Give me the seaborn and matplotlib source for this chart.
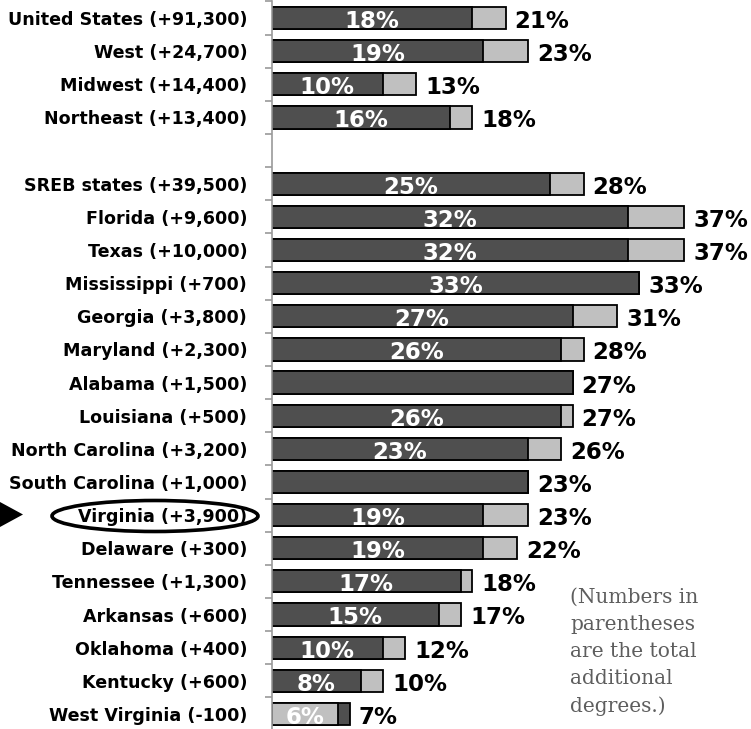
import numpy as np
import pandas as pd
import matplotlib
matplotlib.use("Agg")
import matplotlib.pyplot as plt
import seaborn as sns
from matplotlib.patches import Ellipse, Polygon

# ---------------- data ----------------
labels = ["United States (+91,300)", "West (+24,700)", "Midwest (+14,400)", "Northeast (+13,400)",
          " ",
          "SREB states (+39,500)", "Florida (+9,600)", "Texas (+10,000)", "Mississippi (+700)",
          "Georgia (+3,800)", "Maryland (+2,300)", "Alabama (+1,500)", "Louisiana (+500)",
          "North Carolina (+3,200)", "South Carolina (+1,000)", "Virginia (+3,900)",
          "Delaware (+300)", "Tennessee (+1,300)", "Arkansas (+600)", "Oklahoma (+400)",
          "Kentucky (+600)", "West Virginia (-100)"]
base_pct = [18, 19, 10, 16, np.nan, 25, 32, 32, 33, 27, 26, 27, 26, 23, 23, 19, 19, 17, 15, 10, 8, 6]
total_pct = [21, 23, 13, 18, np.nan, 28, 37, 37, 33, 31, 28, 27, 27, 26, 23, 23, 22, 18, 17, 12, 10, 7]
inner_labels = ["18%", "19%", "10%", "16%", "", "25%", "32%", "32%", "33%", "27%", "26%", "", "26%",
                "23%", "", "19%", "19%", "17%", "15%", "10%", "8%", "6%"]
outer_labels = ["21%", "23%", "13%", "18%", "", "28%", "37%", "37%", "33%", "31%", "28%", "27%", "27%",
                "26%", "23%", "23%", "22%", "18%", "17%", "12%", "10%", "7%"]
decline = [False] * 21 + [True]   # West Virginia: base segment light, top segment dark
note = "(Numbers in\nparentheses\nare the total\nadditional\ndegrees.)"

DARK = "#4f4f4f"
LIGHT = "#c0c0c0"
SANS = "DejaVu Sans"

df = pd.DataFrame({
    "label": labels,
    "base": base_pct,
    "total": total_pct,
    "back": ["dark" if d else "light" for d in decline],
    "front": ["light" if d else "dark" for d in decline],
})
pal = {"dark": DARK, "light": LIGHT}

W, H = 751, 729
fig = plt.figure(figsize=(W / 100, H / 100), dpi=100)
ax_left = 271.5 / W
ax = fig.add_axes([ax_left, -1.5 / H, 1 - ax_left, 1.0])

sns.barplot(data=df, x="total", y="label", hue="back", palette=pal, order=labels,
            dodge=False, width=0.67, edgecolor="black", linewidth=1.3, legend=False,
            orient="h", ax=ax, errorbar=None)
sns.barplot(data=df, x="base", y="label", hue="front", palette=pal, order=labels,
            dodge=False, width=0.67, edgecolor="black", linewidth=1.3, legend=False,
            orient="h", ax=ax, errorbar=None)

px_per_unit = 11.15
ax.set_xlim(0, (W - 271.5) / px_per_unit)
ax.set_ylim(len(labels) - 0.5, -0.5)

# inner and outer labels
for i, (b, t, il, ol) in enumerate(zip(base_pct, total_pct, inner_labels, outer_labels)):
    if np.isnan(t):
        continue
    if il:
        ax.text(b / 2, i + 0.30, il, ha="center", va="baseline", color="white",
                fontsize=16.5, fontweight="bold", family=SANS)
    ax.annotate(ol, xy=(t, i + 0.30), xytext=(6.5, 0), textcoords="offset points",
                ha="left", va="baseline", color="black", fontsize=16.5, fontweight="bold",
                family=SANS)

# axes styling
for s in ["top", "right", "bottom"]:
    ax.spines[s].set_visible(False)
ax.spines["left"].set_color("#9a9a9a")
ax.spines["left"].set_linewidth(1.2)
ax.set_xticks([])
ax.set_xlabel("")
ax.set_ylabel("")
ax.tick_params(axis="y", which="major", length=0, pad=17.5)
ax.set_yticks(np.arange(-0.5, len(labels), 1), minor=True)
ax.tick_params(axis="y", which="minor", length=5, width=1.2, color="#9a9a9a", direction="out")
for lab in ax.get_yticklabels():
    lab.set_fontsize(12.6)
    lab.set_fontweight("bold")
    lab.set_family(SANS)
ax.patch.set_alpha(0)

# note text
fig.text(570 / W, 1 - 588 / H, note, ha="left", va="top", color="#5e5e5e",
         fontsize=14.5, family="DejaVu Serif", linespacing=1.54)

# highlight ellipse and arrow for Virginia
fig.patches.append(Ellipse((155 / W, 1 - 516 / H), 206 / W, 31 / H, transform=fig.transFigure,
                           fill=False, edgecolor="black", linewidth=2.6))
fig.patches.append(Polygon([(0, 1 - 502 / H), (23 / W, 1 - 514.5 / H), (0, 1 - 527 / H)],
                           closed=True, transform=fig.transFigure, facecolor="black",
                           edgecolor="none"))

fig.savefig("out.png", dpi=100)
